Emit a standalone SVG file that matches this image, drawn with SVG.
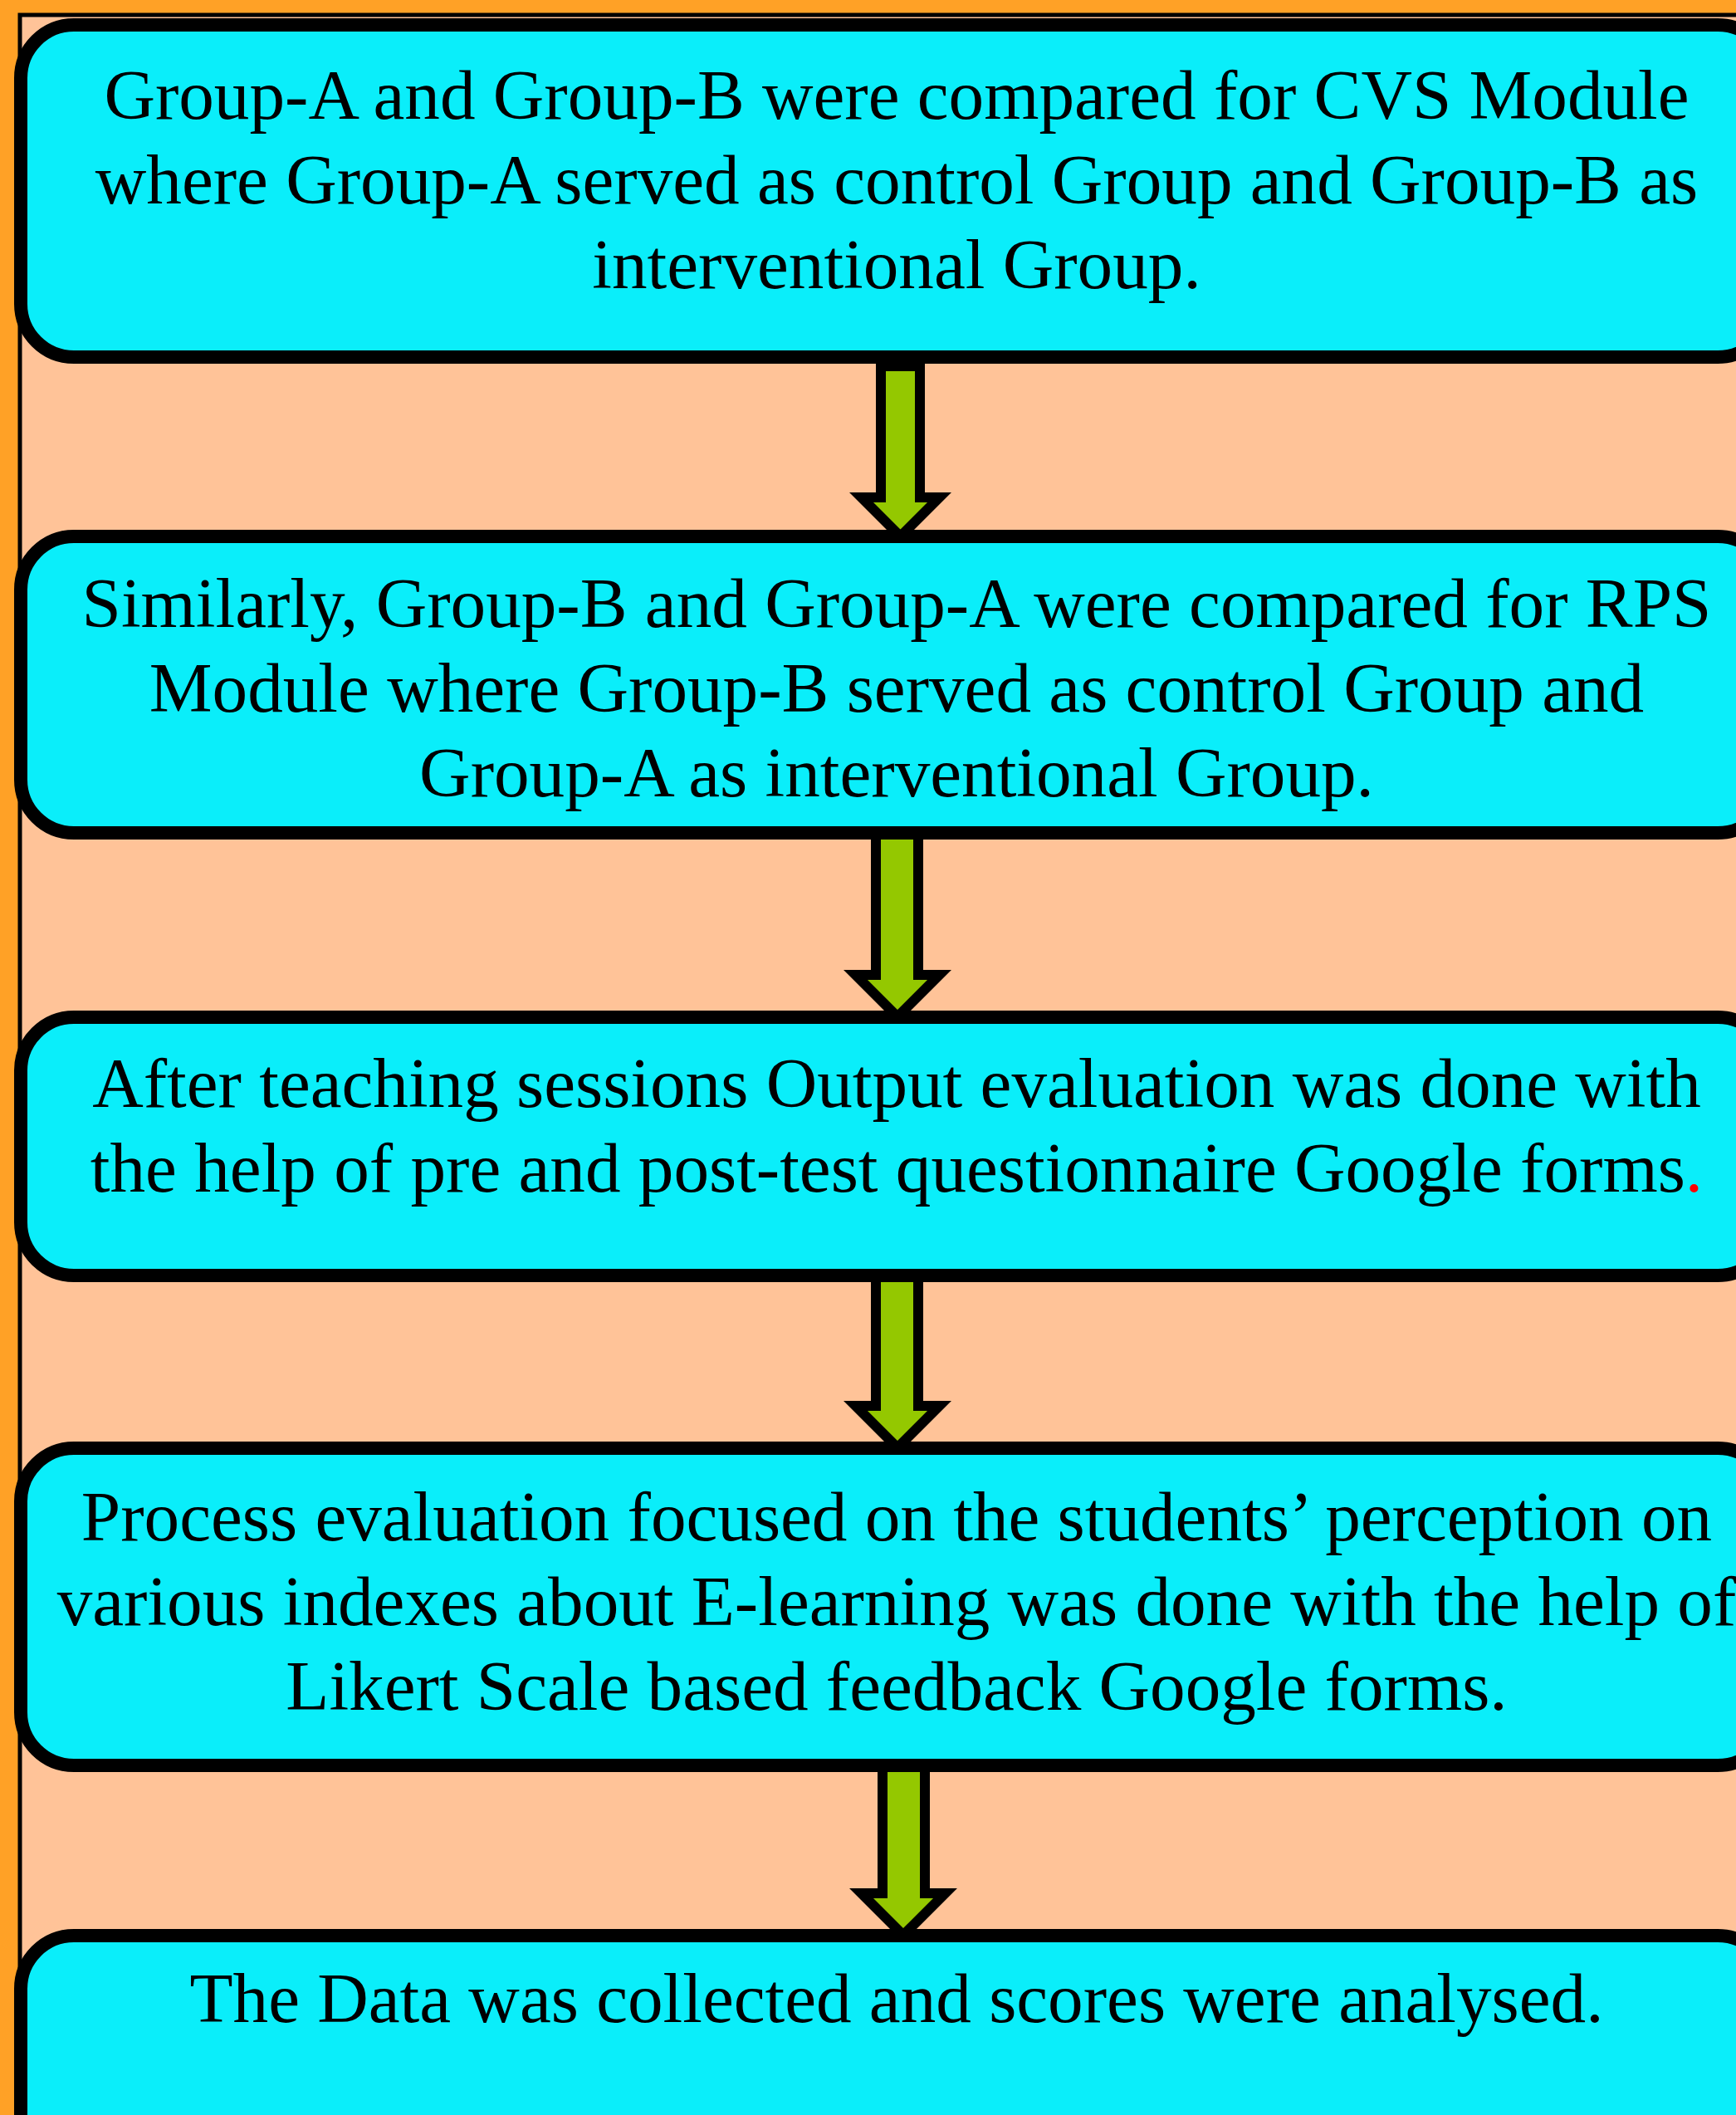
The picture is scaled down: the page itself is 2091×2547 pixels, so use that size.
<svg xmlns="http://www.w3.org/2000/svg" width="2091" height="2547" viewBox="0 0 2091 2547">
<defs>
<style>
.bg{fill:#FFA126;}
.panel{fill:#FFC398;stroke:#000;stroke-width:5;}
.box{fill:#0AEEFA;stroke:#000;stroke-width:16;}
.arrow{fill:#94C800;stroke:#000;stroke-width:12;stroke-linejoin:miter;}
.t{font-family:"Liberation Serif","Times New Roman",serif;font-size:85.2px;fill:#000;text-anchor:middle;}
.red{fill:#FF0000;}
</style>
</defs>
<rect class="bg" x="0" y="0" width="2091" height="2547"/>
<rect class="panel" x="24" y="18" width="2100" height="2560"/>
<g id="connectors">
<polygon class="arrow" points="1061,441 1108,441 1108,599 1131.5,599 1084.5,646 1037.5,599 1061,599"/>
<polygon class="arrow" points="1055,1003 1106,1003 1106,1174 1131.5,1174 1081,1224.5 1030.5,1174 1055,1174"/>
<polygon class="arrow" points="1055,1536 1106,1536 1106,1693 1131.5,1693 1081,1743.5 1030.5,1693 1055,1693"/>
<polygon class="arrow" points="1063,2126 1114,2126 1114,2280 1138.5,2280 1088,2330.5 1037.5,2280 1063,2280"/>
</g>
<g id="node1">
<rect class="box" x="25" y="30" width="2108" height="400" rx="64" ry="64"/>
<text class="t" x="1080" y="143">Group-A and Group-B were compared for CVS Module</text>
<text class="t" x="1080" y="245">where Group-A served as control Group and Group-B as</text>
<text class="t" x="1080" y="347">interventional Group.</text>
</g>
<g id="node2">
<rect class="box" x="25" y="646" width="2108" height="357" rx="64" ry="64"/>
<text class="t" x="1080" y="755">Similarly, Group-B and Group-A were compared for RPS</text>
<text class="t" x="1080" y="857">Module where Group-B served as control Group and</text>
<text class="t" x="1080" y="959">Group-A as interventional Group.</text>
</g>
<g id="node3">
<rect class="box" x="25" y="1225" width="2108" height="311" rx="64" ry="64"/>
<text class="t" x="1080" y="1333">After teaching sessions Output evaluation was done with</text>
<text class="t" x="1080" y="1435">the help of pre and post-test questionnaire Google forms<tspan class="red">.</tspan></text>
</g>
<g id="node4">
<rect class="box" x="25" y="1744" width="2108" height="382" rx="64" ry="64"/>
<text class="t" x="1080" y="1855">Process evaluation focused on the students’ perception on</text>
<text class="t" x="1080" y="1957">various indexes about E-learning was done with the help of</text>
<text class="t" x="1080" y="2059">Likert Scale based feedback Google forms.</text>
</g>
<g id="node5">
<rect class="box" x="25" y="2331" width="2108" height="300" rx="64" ry="64"/>
<text class="t" x="1080" y="2435">The Data was collected and scores were analysed.</text>
</g>
</svg>
